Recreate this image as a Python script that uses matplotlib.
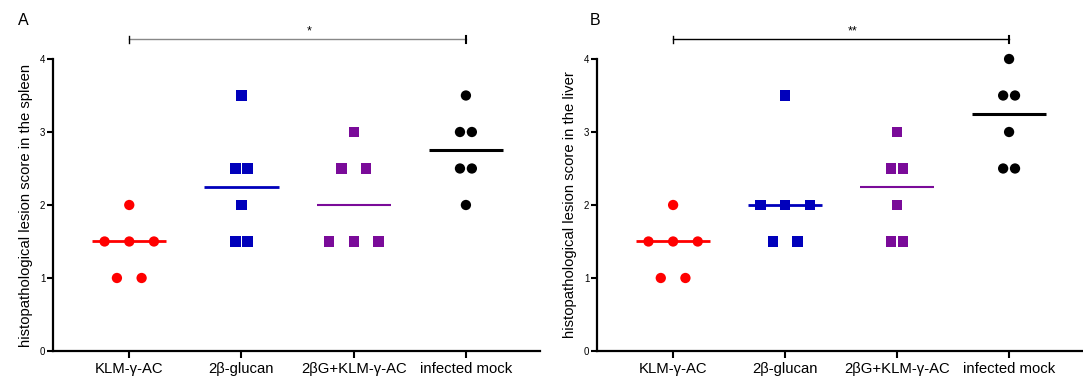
#! /usr/bin/env python3
import numpy as np
import matplotlib
matplotlib.use("Agg")
import matplotlib.pyplot as plt

plt.rcParams['font.family'] = ['Liberation Sans', 'DejaVu Sans']

groups = ['KLM-γ-AC', '2β-glucan', '2βG+KLM-γ-AC', 'infected mock']
colors = ['#ff0000', '#0000bb', '#7a0b99', '#000000']
markers = ['o', 's', 's', 'o']
mean_lw = [2.0, 2.0, 1.5, 2.2]

spleen = [
    [2.0, 1.5, 1.5, 1.5, 1.0, 1.0],
    [3.5, 2.5, 2.5, 2.0, 1.5, 1.5],
    [3.0, 2.5, 2.5, 1.5, 1.5, 1.5],
    [3.5, 3.0, 3.0, 2.5, 2.5, 2.0],
]
liver = [
    [2.0, 1.5, 1.5, 1.5, 1.0, 1.0],
    [3.5, 2.0, 2.0, 2.0, 1.5, 1.5],
    [3.0, 2.5, 2.5, 2.0, 1.5, 1.5],
    [4.0, 3.5, 3.5, 3.0, 2.5, 2.5],
]
panels = ['A', 'B']
ylabels = ['histopathological lesion score in the spleen',
           'histopathological lesion score in the liver']
stars = ['*', '**']
bracket_col = ['#888888', '#000000']


def scatter_group(ax, x, vals, color, marker):
    vals = np.array(vals)
    uniq, counts = np.unique(vals, return_counts=True)
    step = 0.22 if counts.max() >= 3 else 0.106
    for v, n in zip(uniq, counts):
        offs = (np.arange(n) - (n - 1) / 2) * step
        ax.scatter(x + offs, [v] * n, s=55, marker=marker, color=color,
                   edgecolors='none', zorder=3, clip_on=False)


fig = plt.figure(figsize=(10.83, 3.77), dpi=100)
axes = [fig.add_axes([0.0489, 0.069, 0.4497, 0.7745]),
        fig.add_axes([0.5512, 0.069, 0.4488, 0.7745])]

for k, (ax, data) in enumerate(zip(axes, [spleen, liver])):
    for i, vals in enumerate(data):
        scatter_group(ax, i, vals, colors[i], markers[i])
        med = np.median(vals)
        ax.plot([i - 0.33, i + 0.33], [med, med], color=colors[i],
                lw=mean_lw[i], zorder=2, solid_capstyle='butt')
    ax.set_xlim(-0.68, 3.66)
    ax.set_ylim(0, 4)
    ax.set_yticks([0, 1, 2, 3, 4])
    ax.set_xticks(range(4))
    ax.set_xticklabels(groups, fontsize=10.7)
    ax.tick_params(axis='y', labelsize=7, length=4, width=1.5, pad=1.5)
    ax.tick_params(axis='x', length=5, width=1.5, pad=3)
    for s in ['top', 'right']:
        ax.spines[s].set_visible(False)
    for s in ['left', 'bottom']:
        ax.spines[s].set_linewidth(1.6)
    ax.set_ylabel(ylabels[k], fontsize=10.7, labelpad=5)

    # significance bracket
    yb = 4.27
    ax.plot([0, 3], [yb, yb], color=bracket_col[k], lw=1.0, clip_on=False)
    ax.plot([0, 0], [yb - 0.05, yb + 0.05], color='k', lw=1.0, clip_on=False)
    ax.plot([3, 3], [yb - 0.05, yb + 0.05], color='k', lw=1.5, clip_on=False)
    ax.text(1.6, yb + 0.02, stars[k], ha='center', va='bottom', fontsize=9)

fig.text(0.0166, 0.945, 'A', fontsize=11.5, va='center', ha='left')
fig.text(0.5447, 0.945, 'B', fontsize=11.5, va='center', ha='left')

fig.savefig('out.png', dpi=100)
